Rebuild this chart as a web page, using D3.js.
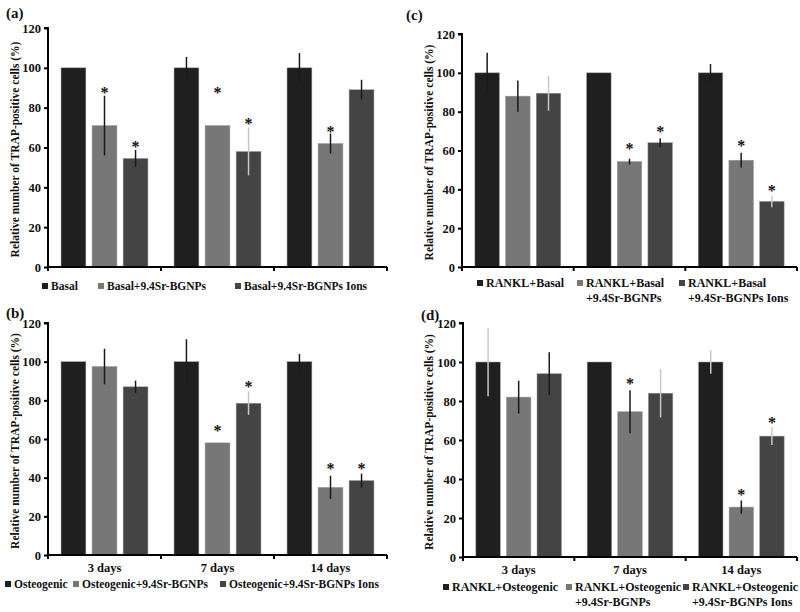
<!DOCTYPE html>
<html>
<head>
<meta charset="utf-8">
<script src="https://cdn.jsdelivr.net/npm/d3@7"></script>
<style>
  body { margin: 0; background: #fff; }
  svg text { font-family: "Liberation Serif", "DejaVu Serif", serif; font-weight: 700; fill: #111; }
</style>
</head>
<body>
<div id="container"></div>
<script>
/* DATA */
const days = ["3 days", "7 days", "14 days"];
const yTicks = [0, 20, 40, 60, 80, 100, 120];
const yTitle = "Relative number of TRAP-positive cells (%)";

// (a) basal
const legendA = [["Basal"], ["Basal+9.4Sr-BGNPs"], ["Basal+9.4Sr-BGNPs Ions"]];
const valuesA = [[100, 71, 54.5], [100, 71, 58], [100, 62, 89]];
const errA = [[0, 15, 4.3], [5.5, 0, 12], [7.4, 5, 5]];
const starsA = [[0, 88.6, 61.3], [0, 88.6, 73], [0, 69, 0]];
const faintA = [[0, 0, 0], [0, 0, 1], [0, 0, 0]];

// (b) osteogenic
const legendB = [["Osteogenic"], ["Osteogenic+9.4Sr-BGNPs"], ["Osteogenic+9.4Sr-BGNPs Ions"]];
const valuesB = [[100, 97.5, 87], [100, 58, 78.5], [100, 35, 38.5]];
const errB = [[0, 9.2, 3.2], [11.6, 0, 6], [4, 6, 3.6]];
const starsB = [[0, 0, 0], [0, 65, 87.8], [0, 45.6, 45.6]];
const faintB = [[0, 0, 0], [0, 0, 1], [0, 0, 0]];

// (c) RANKL + basal
const legendC = [["RANKL+Basal"], ["RANKL+Basal", "+9.4Sr-BGNPs"], ["RANKL+Basal", "+9.4Sr-BGNPs Ions"]];
const valuesC = [[100, 88, 89.5], [100, 54.3, 64], [100, 55, 33.8]];
const errC = [[10.3, 8, 9], [0, 1.5, 2.3], [4.5, 3.8, 3]];
const starsC = [[0, 0, 0], [0, 62, 70.6], [0, 63.2, 40]];
const faintC = [[0, 0, 1], [0, 0, 0], [0, 0, 1]];

// (d) RANKL + osteogenic
const legendD = [["RANKL+Osteogenic"], ["RANKL+Osteogenic", "+9.4Sr-BGNPs"], ["RANKL+Osteogenic", "+9.4Sr-BGNPs Ions"]];
const valuesD = [[100, 82, 94], [100, 74.5, 84], [100, 25.6, 62]];
const errD = [[17.5, 8.4, 11], [0, 11, 12.4], [6, 3.4, 4.5]];
const starsD = [[0, 0, 0], [0, 89.7, 0], [0, 32.8, 70]];
const faintD = [[1, 0, 0], [0, 0, 1], [1, 0, 1]];

/* LAYOUT */
const width = 800, height = 612;
const barColors = ["#1f1f1f", "#777777", "#444444"];

const panels = [
  { tag: "(a)", tx: 6, ty: 18, x0: 48, x1: 387, yTop: 28, yBot: 267, ylabX: 19,
    cats: null, legend: legendA, legX: [42, 98, 235], legY: 290, legFs: 11.5,
    values: valuesA, err: errA, stars: starsA, faint: faintA },
  { tag: "(b)", tx: 6, ty: 318, x0: 48, x1: 387, yTop: 323, yBot: 555, ylabX: 19,
    cats: days, catY: 572, legend: legendB, legX: [5, 73, 220], legY: 588, legFs: 11.5,
    values: valuesB, err: errB, stars: starsB, faint: faintB },
  { tag: "(c)", tx: 406, ty: 20, x0: 462, x1: 797, yTop: 34, yBot: 267, ylabX: 433,
    cats: null, legend: legendC, legX: [477, 577, 679], legY: 287, legFs: 12,
    values: valuesC, err: errC, stars: starsC, faint: faintC },
  { tag: "(d)", tx: 421, ty: 320, x0: 463, x1: 797, yTop: 323, yBot: 557, ylabX: 433,
    cats: days, catY: 574, legend: legendD, legX: [443, 566, 683], legY: 591, legFs: 12,
    values: valuesD, err: errD, stars: starsD, faint: faintD }
];

const svg = d3.select("#container")
  .append("svg")
  .attr("width", width)
  .attr("height", height);

panels.forEach(p => drawPanel(p));

function drawPanel(p) {
  const g = svg.append("g");

  const yScale = d3.scaleLinear()
    .domain([0, 120])
    .range([p.yBot, p.yTop]);

  const xGroup = d3.scaleBand()
    .domain(d3.range(3))
    .range([p.x0, p.x1]);

  const xBar = d3.scaleBand()
    .domain(d3.range(3))
    .range([0, xGroup.bandwidth()])
    .paddingInner(0.2)
    .paddingOuter(0.42);

  // panel tag
  g.append("text")
    .attr("x", p.tx)
    .attr("y", p.ty)
    .style("font-size", "15px")
    .text(p.tag);

  // y axis
  const yAxis = d3.axisLeft(yScale)
    .tickValues(yTicks)
    .tickSize(4)
    .tickPadding(3);
  const ya = g.append("g")
    .attr("transform", `translate(${p.x0}, 0)`)
    .call(yAxis);
  ya.attr("font-family", null).attr("font-size", null);
  ya.select(".domain").attr("stroke-width", 2).attr("d", `M-4,${p.yTop}H0V${p.yBot}`);
  ya.selectAll(".tick line").attr("stroke-width", 2);
  ya.selectAll(".tick text")
    .style("font-size", "12.5px")
    .attr("fill", null);

  // y title
  g.append("text")
    .attr("transform", `translate(${p.ylabX}, ${(p.yTop + p.yBot) / 2 + 2}) rotate(-90)`)
    .attr("text-anchor", "middle")
    .style("font-size", "11.5px")
    .text(yTitle);

  // bars
  const rows = [];
  p.values.forEach((grp, gi) => grp.forEach((v, bi) => rows.push({
    gi, bi, v, e: p.err[gi][bi], s: p.stars[gi][bi], f: p.faint[gi][bi]
  })));

  g.selectAll(".bar")
    .data(rows)
    .join("rect")
    .attr("class", "bar")
    .attr("x", d => xGroup(d.gi) + xBar(d.bi))
    .attr("width", xBar.bandwidth())
    .attr("y", d => yScale(d.v))
    .attr("height", d => p.yBot - yScale(d.v))
    .attr("fill", d => barColors[d.bi])
    .attr("stroke", "#9a9a9a")
    .attr("stroke-width", 0.5);

  // error bars (no caps)
  g.selectAll(".err")
    .data(rows.filter(d => d.e > 0))
    .join("line")
    .attr("class", "err")
    .attr("x1", d => xGroup(d.gi) + xBar(d.bi) + xBar.bandwidth() / 2)
    .attr("x2", d => xGroup(d.gi) + xBar(d.bi) + xBar.bandwidth() / 2)
    .attr("y1", d => yScale(d.v + d.e))
    .attr("y2", d => yScale(d.v - d.e))
    .attr("stroke", d => d.f ? "#c8c8c8" : "#1a1a1a")
    .attr("stroke-width", 1.5);

  // asterisks
  g.selectAll(".star")
    .data(rows.filter(d => d.s > 0))
    .join("text")
    .attr("class", "star")
    .attr("x", d => xGroup(d.gi) + xBar(d.bi) + xBar.bandwidth() / 2)
    .attr("y", d => yScale(d.s) + 7)
    .attr("text-anchor", "middle")
    .style("font-size", "16px")
    .text("*");

  // x axis line with group boundary ticks
  g.append("line")
    .attr("x1", p.x0).attr("x2", p.x1)
    .attr("y1", p.yBot).attr("y2", p.yBot)
    .attr("stroke", "#000").attr("stroke-width", 2);
  g.selectAll(".xtick")
    .data(d3.range(4))
    .join("line")
    .attr("class", "xtick")
    .attr("x1", i => i < 3 ? xGroup(i) : p.x1)
    .attr("x2", i => i < 3 ? xGroup(i) : p.x1)
    .attr("y1", p.yBot).attr("y2", p.yBot + 4)
    .attr("stroke", "#000").attr("stroke-width", 2);

  // category labels
  if (p.cats) {
    g.selectAll(".cat")
      .data(p.cats)
      .join("text")
      .attr("class", "cat")
      .attr("x", (d, i) => xGroup(i) + xGroup.bandwidth() / 2)
      .attr("y", p.catY)
      .attr("text-anchor", "middle")
      .style("font-size", "12.5px")
      .text(d => d);
  }

  // legend
  p.legend.forEach((lines, i) => {
    const lx = p.legX[i];
    g.append("rect")
      .attr("x", lx)
      .attr("y", p.legY - 7)
      .attr("width", 6)
      .attr("height", 6)
      .attr("fill", barColors[i]);
    lines.forEach((t, li) => {
      g.append("text")
        .attr("x", lx + 9)
        .attr("y", p.legY + li * 15)
        .style("font-size", p.legFs + "px")
        .text(t);
    });
  });
}
</script>
</body>
</html>
